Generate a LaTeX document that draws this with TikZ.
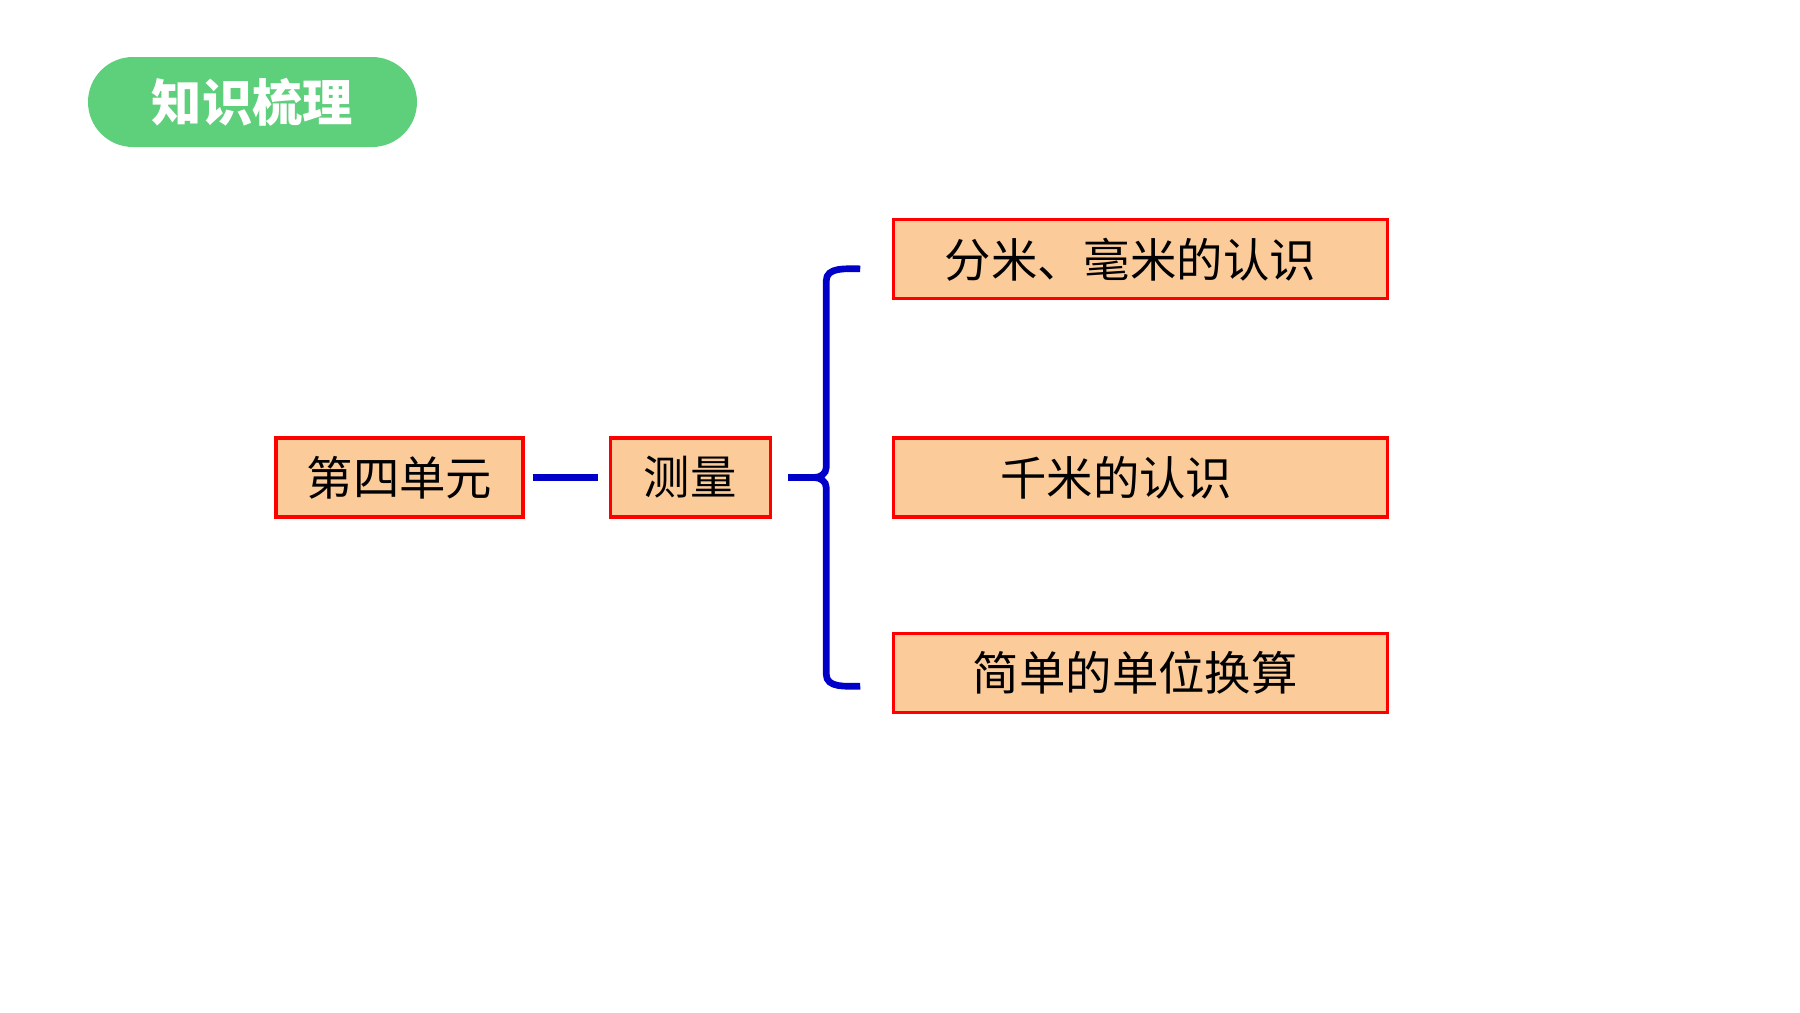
\documentclass[tikz,border=0pt]{standalone}
\usepackage{fontspec}
\newfontfamily\cjk{Noto Sans CJK SC}
\usetikzlibrary{positioning, calc}
\definecolor{pillgreen}{HTML}{5ECF7A}
\definecolor{peach}{HTML}{FCCB9A}
\definecolor{linkblue}{HTML}{0000C8}

\begin{document}
\begin{tikzpicture}[node distance=1cm,
    box/.style={draw=red, line width=0.9pt, fill=peach, minimum height=0.79cm, inner sep=0pt,
                font=\cjk\fontsize{13.2pt}{15pt}\selectfont},
    link/.style={draw=linkblue, line width=1.9pt}]
    \useasboundingbox (0,0) rectangle (18,-10.12);
    \node[fill=pillgreen, rounded corners=0.45cm, minimum width=3.29cm, minimum height=0.9cm,
          text=white, font=\cjk\bfseries\fontsize{14.3pt}{16pt}\selectfont] (title) at (2.525,-1.02) {知识梳理};
    \node[box, minimum width=2.47cm] (unit) at (3.995,-4.775) {第四单元};
    \node[box, minimum width=1.6cm] (measure) [right=0.84cm of unit] {测量};
    \node[box, minimum width=4.94cm] (km) [right=1.2cm of measure] {千米的认识\hspace*{0.48cm}};
    \node[box, minimum width=4.94cm] (dm) [above=1.36cm of km] {分米、毫米的认识\hspace*{0.2cm}};
    \node[box, minimum width=4.94cm] (conv) [below=1.13cm of km] {简单的单位换算\hspace*{0.1cm}};
    \draw[link, shorten <=0.08cm, shorten >=0.105cm] (unit) -- (measure);
    \coordinate (tip) at ([xshift=0.165cm]measure.east);
    \coordinate (top) at ([xshift=-0.315cm,yshift=-0.095cm]dm.west);
    \coordinate (bot) at ([xshift=-0.315cm,yshift=-0.135cm]conv.west);
    \draw[link] (top) to[out=180,in=90] ($(tip |- top)+(0.38,-0.12)$)
        -- ($(tip)+(0.38,0.1)$) to[out=-90,in=0] ($(tip)+(0.26,0)$) -- (tip);
    \draw[link] (tip) -- ($(tip)+(0.26,0)$) to[out=0,in=90] ($(tip)+(0.38,-0.1)$)
        -- ($(tip |- bot)+(0.38,0.12)$) to[out=-90,in=180] (bot);
\end{tikzpicture}
\end{document}
